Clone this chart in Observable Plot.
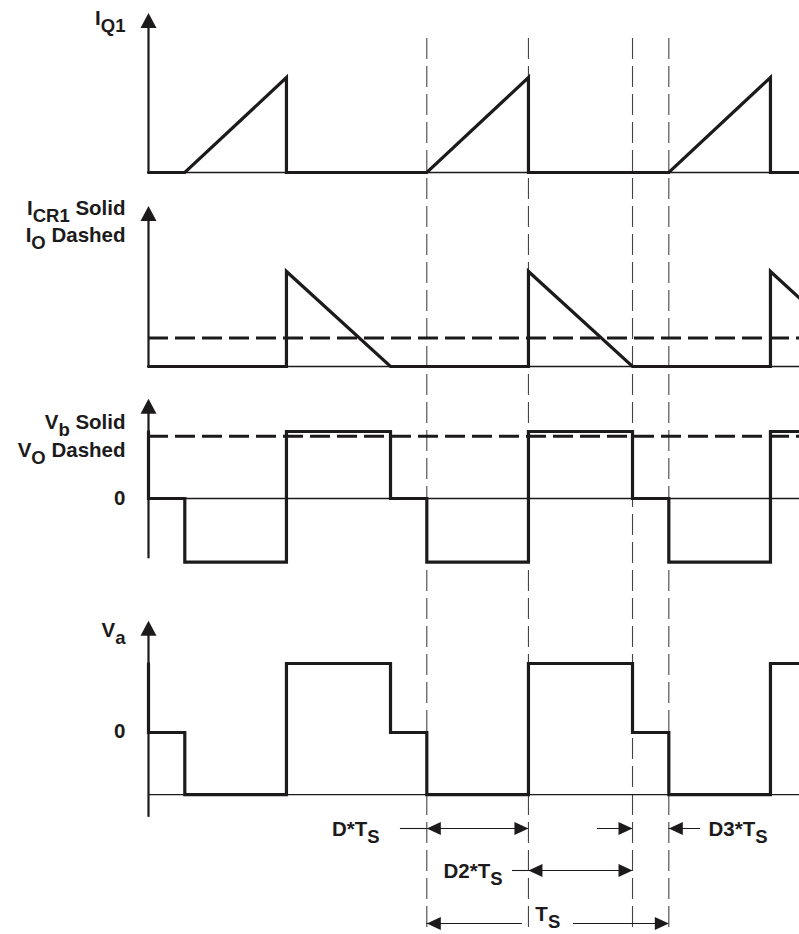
<!DOCTYPE html>
<html><head><meta charset="utf-8">
<script src="https://cdn.jsdelivr.net/npm/d3@7"></script>
<script src="https://cdn.jsdelivr.net/npm/@observablehq/plot@0.6"></script>
<style>
html,body{margin:0;padding:0;background:#fff;}
#chart svg{display:block;overflow:visible;}
</style></head><body><div id="chart"></div>
<script>
// ---------- data (time in units of Ts) ----------
const tEnd = 2.69;
const markerTimes = [1.15, 1.57, 2.0, 2.15];

const iq1T = [0, 0.15, 0.57, 0.57, 1.15, 1.57, 1.57, 2.15, 2.57, 2.57, 2.69];
const iq1V = [0, 0, 1, 0, 0, 1, 0, 0, 1, 0, 0];

const icrT = [0, 0.57, 0.57, 1.0, 1.57, 1.57, 2.0, 2.57, 2.57, 2.69];
const icrV = [0, 0, 1, 0, 0, 1, 0, 0, 1, 0.72];
const ioLevel = 0.3;

const vbT = [0, 0, 0.15, 0.15, 0.57, 0.57, 1.0, 1.0, 1.15, 1.15, 1.57, 1.57, 2.0, 2.0, 2.15, 2.15, 2.57, 2.57, 2.69];
const vbV = [1, 0, 0, -0.95, -0.95, 1, 1, 0, 0, -0.95, -0.95, 1, 1, 0, 0, -0.95, -0.95, 1, 1];
const voLevel = 0.93;

const vaT = [0, 0, 0.15, 0.15, 0.57, 0.57, 1.0, 1.0, 1.15, 1.15, 1.57, 1.57, 2.0, 2.0, 2.15, 2.15, 2.57, 2.57, 2.69];
const vaV = [1, 0, 0, -0.9, -0.9, 1, 1, 0, 0, -0.9, -0.9, 1, 1, 0, 0, -0.9, -0.9, 1, 1];

const axisLabels = ["I_Q1", "I_CR1 Solid", "I_O Dashed", "V_b Solid", "V_O Dashed", "0", "V_a", "0"];

const dimLabels = ["D*T_S", "D3*T_S", "D2*T_S", "T_S"];
const dimLabelTimes = [0.955, 2.314, 1.463, 1.65];
const dimSegStart = [1.041, 1.15, 1.855, 2.15, 1.504, 1.57, 1.15, 1.545 + 0.211];
const dimSegEnd   = [1.15, 1.57, 2.0, 2.281, 1.57, 2.0, 1.545, 2.15];
const headLeftTimes = [1.15, 2.15, 1.57, 1.15];
const headRightTimes = [1.57, 2.0, 2.0, 2.15];

// ---------- layout (vertical positions of the panels) ----------
const panels = [
  {zero: 172, gain: 95, tip: 1.68, bottom: 0,     base: 0},    // IQ1
  {zero: 366, gain: 95, tip: 1.69, bottom: 0,     base: 0},    // ICR1
  {zero: 498, gain: 67, tip: 1.49, bottom: -0.9,  base: 0},    // Vb
  {zero: 732, gain: 69, tip: 1.62, bottom: -1.23, base: -0.9}  // Va
];
const gy = (p, v) => p.zero - p.gain * v;
const labelY = [18, 208, 235, 422, 450, 498, 630, 731];
const dimSegRow = [0, 0, 0, 0, 1, 1, 2, 2];
const dimLabelRow = [0, 0, 1, 2];
const headLeftRow = [0, 0, 1, 2];
const headRightRow = [0, 0, 1, 2];
const rowY = [828, 870, 923];
const rowTextY = [829, 871, 914];

const ink = "#1c1a1b";
const fontFamily = "'Liberation Sans', Arial, Helvetica, sans-serif";

const toPts = (T, V, p) => T.map((t, i) => ({t, y: gy(p, V[i])}));

const headUp = {draw(ctx) { ctx.moveTo(0, 0); ctx.lineTo(-8, 15); ctx.lineTo(8, 15); ctx.closePath(); }};
const headRight = {draw(ctx) { ctx.moveTo(0, 0); ctx.lineTo(-14, -6.5); ctx.lineTo(-14, 6.5); ctx.closePath(); }};
const headLeft = {draw(ctx) { ctx.moveTo(0, 0); ctx.lineTo(14, -6.5); ctx.lineTo(14, 6.5); ctx.closePath(); }};

const axesData = panels.map(p => ({t: 0, y1: gy(p, p.tip) + 14, y2: gy(p, p.bottom), tipY: gy(p, p.tip), baseY: gy(p, p.base)}));

const marks = [];
// vertical dashed timing guides
marks.push(Plot.ruleX(markerTimes, {x: d => d, y1: 38, y2: 934, stroke: "#444", strokeWidth: 1.1, strokeDasharray: "21,7"}));
// thin baselines
marks.push(Plot.ruleY(axesData, {y: "baseY", x1: 0, x2: tEnd, stroke: ink, strokeWidth: 1.4}));
// axes + arrowheads
marks.push(Plot.ruleX(axesData, {x: "t", y1: "y1", y2: "y2", stroke: ink, strokeWidth: 2.2}));
marks.push(Plot.dot(axesData, {x: "t", y: "tipY", symbol: headUp, fill: ink, stroke: "none"}));
// dashed Io / Vo
marks.push(Plot.ruleY([gy(panels[1], ioLevel)], {y: d => d, x1: 0, x2: tEnd, stroke: ink, strokeWidth: 3, strokeDasharray: "20,7"}));
marks.push(Plot.ruleY([gy(panels[2], voLevel)], {y: d => d, x1: 0, x2: tEnd, stroke: ink, strokeWidth: 3, strokeDasharray: "20,7"}));
// waveforms
const sig = {x: "t", y: "y", stroke: ink, strokeWidth: 3.2, strokeLinejoin: "miter", strokeMiterlimit: 10};
marks.push(Plot.line(toPts(iq1T, iq1V, panels[0]), sig));
marks.push(Plot.line(toPts(icrT, icrV, panels[1]), sig));
marks.push(Plot.line(toPts(vbT, vbV, panels[2]), sig));
marks.push(Plot.line(toPts(vaT, vaV, panels[3]), sig));
// axis labels
const txt = {fontFamily, fontWeight: "bold", fontSize: 20.5, fill: ink, lineAnchor: "middle"};
marks.push(Plot.text(axisLabels, {...txt, x: () => 0, y: (d, i) => labelY[i], text: d => d, textAnchor: "end", dx: -23}));
// dimension lines
const segs = dimSegStart.map((s, i) => ({x1: s, x2: dimSegEnd[i], y: rowY[dimSegRow[i]]}));
marks.push(Plot.ruleY(segs, {x1: "x1", x2: "x2", y: "y", stroke: ink, strokeWidth: 1.1}));
marks.push(Plot.dot(headLeftTimes.map((t, i) => ({t, y: rowY[headLeftRow[i]]})), {x: "t", y: "y", symbol: headLeft, fill: ink, stroke: "none"}));
marks.push(Plot.dot(headRightTimes.map((t, i) => ({t, y: rowY[headRightRow[i]]})), {x: "t", y: "y", symbol: headRight, fill: ink, stroke: "none"}));
const anchors = ["end", "start", "end", "middle"];
dimLabels.forEach((lab, i) => {
  marks.push(Plot.text([lab], {...txt, x: () => dimLabelTimes[i], y: () => rowTextY[dimLabelRow[i]], text: d => d, textAnchor: anchors[i]}));
});

const svg = Plot.plot({
  width: 799, height: 934,
  marginLeft: 148, marginRight: 0, marginTop: 0, marginBottom: 0,
  x: {domain: [0, tEnd], axis: null},
  y: {domain: [0, 934], range: [0, 934], axis: null},
  style: {fontFamily, background: "#fff", overflow: "visible"},
  marks
});

// subscripts: "X_sub rest"
d3.select(svg).selectAll("text").each(function() {
  const s = this.textContent;
  if (!s.includes("_")) return;
  const parts = s.split(/_(\S+)/);
  while (this.firstChild) this.removeChild(this.firstChild);
  let shifted = false;
  parts.forEach((p, i) => {
    if (p === "") return;
    const ts = document.createElementNS("http://www.w3.org/2000/svg", "tspan");
    ts.textContent = p;
    if (i % 2 === 1) { ts.setAttribute("dy", 7); ts.setAttribute("font-size", 18.5); shifted = true; }
    else if (shifted) { ts.setAttribute("dy", -7); shifted = false; }
    this.appendChild(ts);
  });
});

document.getElementById("chart").appendChild(svg);
</script>
</body></html>
